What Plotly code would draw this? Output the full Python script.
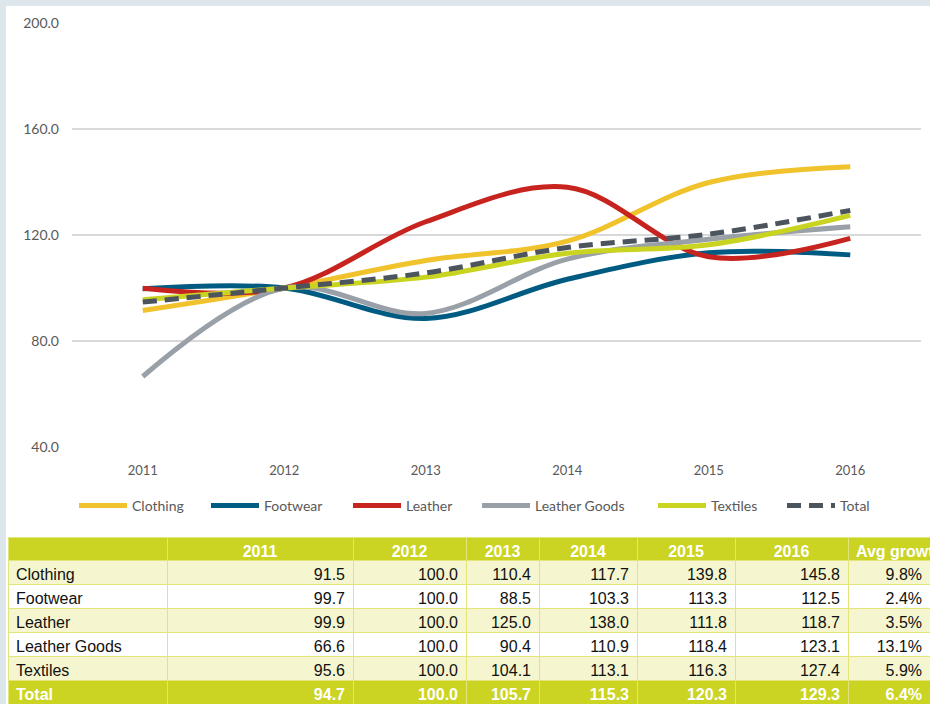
import plotly.graph_objects as go

# Index values (2012 = 100)
years = [2011, 2012, 2013, 2014, 2015, 2016]
year_labels = ["2011", "2012", "2013", "2014", "2015", "2016"]
series_names = ["Clothing", "Footwear", "Leather", "Leather Goods", "Textiles", "Total"]
clothing = [91.5, 100.0, 110.4, 117.7, 139.8, 145.8]
footwear = [99.7, 100.0, 88.5, 103.3, 113.3, 112.5]
leather = [99.9, 100.0, 125.0, 138.0, 111.8, 118.7]
leather_goods = [66.6, 100.0, 90.4, 110.9, 118.4, 123.1]
textiles = [95.6, 100.0, 104.1, 113.1, 116.3, 127.4]
total = [94.7, 100.0, 105.7, 115.3, 120.3, 129.3]
avg_growth = ["9.8%", "2.4%", "3.5%", "13.1%", "5.9%", "6.4%"]
y_ticks = [40, 80, 120, 160, 200]

series_values = [clothing, footwear, leather, leather_goods, textiles, total]
colors = ["#f0c22b", "#005b82", "#c8241f", "#9aa0a7", "#c9d421", "#4c545e"]
dashes = ["solid"] * 5 + ["14px,8px"]

W, H = 930, 704

# one legend box per series so each entry sits at its own spot along the row
legend_ids = ["legend", "legend2", "legend3", "legend4", "legend5", "legend6"]
legend_text_x = [133, 265, 407, 536, 712, 841]
swatch_w = 48

fig = go.Figure()

for name, vals, col, dash, lid in zip(series_names, series_values, colors, dashes, legend_ids):
    fig.add_trace(go.Scatter(
        x=years, y=vals, name=name, mode="lines",
        line=dict(color=col, width=5, shape="spline", smoothing=1.0, dash=dash),
        xaxis="x", yaxis="y", legend=lid,
    ))

# Data table below the chart: category rows, then a bold banded Total row
light = "#f5f6cf"
band = "#cbd423"
grid_line = "#e2e57a"
col_widths = [159, 186, 113, 73, 98, 98, 113, 82]
table_font = "Liberation Sans, Arial"
n_body = len(series_names) - 1
row_fill = [light if r % 2 == 0 else "white" for r in range(n_body)]

columns = ([series_names]
           + [[f"{vals[i]:.1f}" for vals in series_values] for i in range(len(years))]
           + [avg_growth])
body_cols = [c[:n_body] for c in columns]
total_cells = [c[n_body] for c in columns]
n_cols = len(columns)
row_h, head_h = 24, 23

fig.add_trace(go.Table(
    domain=dict(x=[8 / W, 1.0], y=[row_h / H, (row_h + head_h + n_body * row_h) / H]),
    columnwidth=col_widths,
    header=dict(
        values=[""] + year_labels + ["Avg\u00a0growth"],
        fill_color=band,
        line=dict(color=grid_line, width=1),
        font=dict(family=table_font, size=16, color="white", weight="bold"),
        align=["center"] * 7 + ["left"],
        height=head_h,
    ),
    cells=dict(
        values=body_cols,
        fill_color=[row_fill] * n_cols,
        line=dict(color=grid_line, width=1),
        font=dict(family=table_font, size=16, color="#111111"),
        align=["left"] + ["right"] * 7,
        height=row_h,
    ),
))

fig.add_trace(go.Table(
    domain=dict(x=[8 / W, 1.0], y=[0, row_h / H]),
    columnwidth=col_widths,
    header=dict(
        values=total_cells,
        fill_color=band,
        line=dict(color=grid_line, width=1),
        font=dict(family=table_font, size=16, color="white", weight="bold"),
        align=["left"] + ["right"] * 7,
        height=row_h,
    ),
    cells=dict(values=[[] for _ in range(n_cols)]),
))

legend_common = dict(
    orientation="h", yanchor="middle", y=(H - 506) / H, xanchor="left",
    font=dict(size=14, color="#595959"), bgcolor="rgba(0,0,0,0)",
    borderwidth=0, itemwidth=swatch_w,
)
legends = {lid: dict(legend_common, x=(tx - swatch_w - 11) / W)
           for lid, tx in zip(legend_ids, legend_text_x)}

fig.update_layout(
    width=W, height=H,
    margin=dict(l=0, r=0, t=0, b=0, autoexpand=False),
    paper_bgcolor="#dde6eb",
    plot_bgcolor="white",
    font=dict(family="Lato, Open Sans, sans-serif", color="#595959"),
    shapes=[dict(type="rect", xref="paper", yref="paper",
                 x0=6 / W, x1=1.0, y0=0, y1=(H - 6) / H,
                 fillcolor="white", line=dict(width=0), layer="below")],
    xaxis=dict(
        domain=[72 / W, 921 / W], range=[2010.5, 2016.5],
        tickvals=years, ticktext=year_labels,
        showgrid=False, zeroline=False, showline=False,
        ticklabelstandoff=14, automargin=False,
        tickfont=dict(size=13, color="#595959"), fixedrange=True,
    ),
    yaxis=dict(
        domain=[(H - 447) / H, (H - 23) / H], range=[40, 200],
        tickvals=y_ticks, tickformat=".1f",
        showgrid=True, gridcolor="#d9d9d9", gridwidth=1.5,
        zeroline=False, showline=False,
        ticklabelstandoff=12, automargin=False,
        tickfont=dict(size=14, color="#595959"), fixedrange=True,
    ),
    showlegend=True,
    **legends,
)

fig.write_html("out.html")
